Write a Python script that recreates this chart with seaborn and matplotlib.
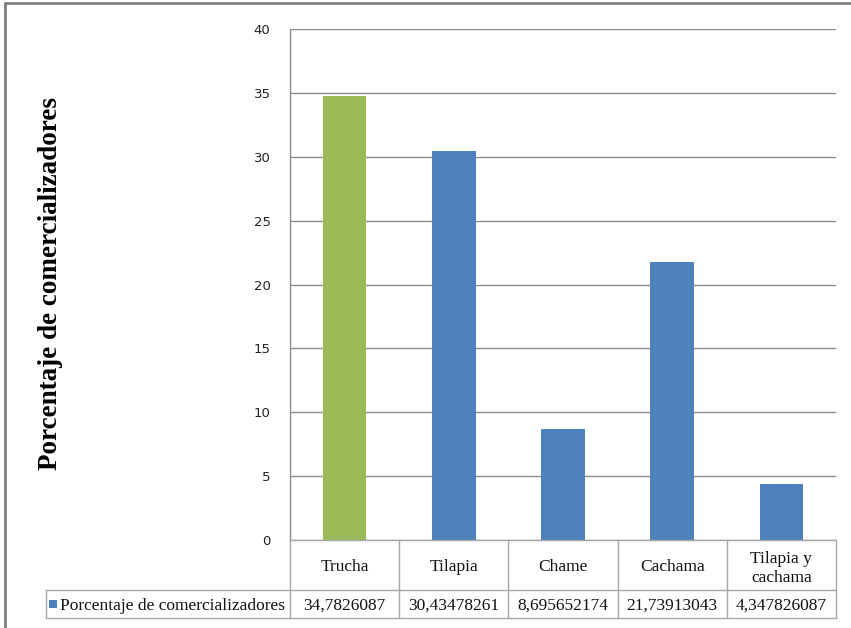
import matplotlib
matplotlib.use("Agg")
import matplotlib.pyplot as plt
from matplotlib.lines import Line2D
from matplotlib.patches import Rectangle
from matplotlib.transforms import blended_transform_factory
import seaborn as sns
import pandas as pd

# Data
categorias = ["Trucha", "Tilapia", "Chame", "Cachama", "Tilapia y\ncachama"]
porcentajes = [34.7826087, 30.43478261, 8.695652174, 21.73913043, 4.347826087]
etiquetas_valor = ["34,7826087", "30,43478261", "8,695652174", "21,73913043", "4,347826087"]
serie = "Porcentaje de comercializadores"
y_ticks = [0, 5, 10, 15, 20, 25, 30, 35, 40]

VERDE = "#9BBB59"
AZUL = "#4F81BD"
GRIS = "#8C8C8C"
colores = [VERDE, AZUL, AZUL, AZUL, AZUL]

W, H = 851, 628
sns.set_theme(style="white")
plt.rcParams["font.family"] = ["DejaVu Sans"]

fig = plt.figure(figsize=(W / 100, H / 100), dpi=100)
fx = lambda x: x / W
fy = lambda y: 1 - y / H

ax = fig.add_axes([fx(290), fy(540), (836 - 290) / W, (540 - 29) / H])

df = pd.DataFrame({"cat": categorias, "val": porcentajes})
sns.barplot(data=df, x="cat", y="val", hue="cat", palette=colores,
            width=0.4, legend=False, ax=ax, saturation=1, linewidth=0)

ax.set_xlim(-0.5, len(categorias) - 0.5)
ax.set_ylim(0, 40)
ax.set_yticks(y_ticks)
ax.set_yticklabels([str(t) for t in y_ticks])
ax.tick_params(axis="y", length=0, pad=14, labelsize=9.5, colors="#222222")
ax.set_xticks([])
ax.set_xlabel("")
ax.set_ylabel("")
ax.yaxis.grid(True, color=GRIS, linewidth=1)
ax.set_axisbelow(True)
for s in ["top", "right", "bottom"]:
    ax.spines[s].set_visible(False)
ax.spines["left"].set_color(GRIS)
ax.spines["left"].set_linewidth(1)

# Outer chart frame
fig.add_artist(Rectangle((fx(4.5), fy(H + 10)), 1.2, fy(2.5) - fy(H + 10),
                         transform=fig.transFigure, fill=False,
                         edgecolor="#7F7F7F", linewidth=2, clip_on=False))

# Data table below the axis
tr = blended_transform_factory(ax.transData, fig.transFigure)
n = len(categorias)
lk = dict(color="#A6A6A6", linewidth=1, clip_on=False)

# vertical separators of category columns
for i in range(n + 1):
    x = i - 0.5
    fig.add_artist(Line2D([x, x], [fy(540), fy(618)], transform=tr, **lk))
# horizontal lines
fig.add_artist(Line2D([-0.5, n - 0.5], [fy(540), fy(540)], transform=tr, **lk))
fig.add_artist(Line2D([fx(46), fx(836)], [fy(590), fy(590)], transform=fig.transFigure, **lk))
fig.add_artist(Line2D([fx(46), fx(836)], [fy(618), fy(618)], transform=fig.transFigure, **lk))
fig.add_artist(Line2D([fx(46), fx(46)], [fy(590), fy(618)], transform=fig.transFigure, **lk))

serif = ["Liberation Serif", "DejaVu Serif"]
for i, (c, v) in enumerate(zip(categorias, etiquetas_valor)):
    t1 = fig.text(0, fy(565), c, transform=tr, fontsize=12.5, family=serif,
                  ha="center", va="center_baseline", color="#111111", linespacing=1.25)
    t1.set_x(i)
    t2 = fig.text(0, fy(604), v, transform=tr, fontsize=12.5, family=serif,
                  ha="center", va="center_baseline", color="#111111")
    t2.set_x(i)

# legend key and series name in the table
fig.add_artist(Rectangle((fx(49), fy(608)), 8 / W, 8 / H, transform=fig.transFigure,
                         facecolor=AZUL, edgecolor="none"))
fig.text(fx(60), fy(604), serie, fontsize=12.5, family=serif,
         ha="left", va="center_baseline", color="#111111")

# y-axis title
fig.text(fx(51), fy(283), "Porcentaje de comercializadores", rotation=90,
         fontsize=19.5, fontweight="bold", family=serif, ha="center", va="center",
         color="black")

fig.savefig("out.png", dpi=100, facecolor="white")
